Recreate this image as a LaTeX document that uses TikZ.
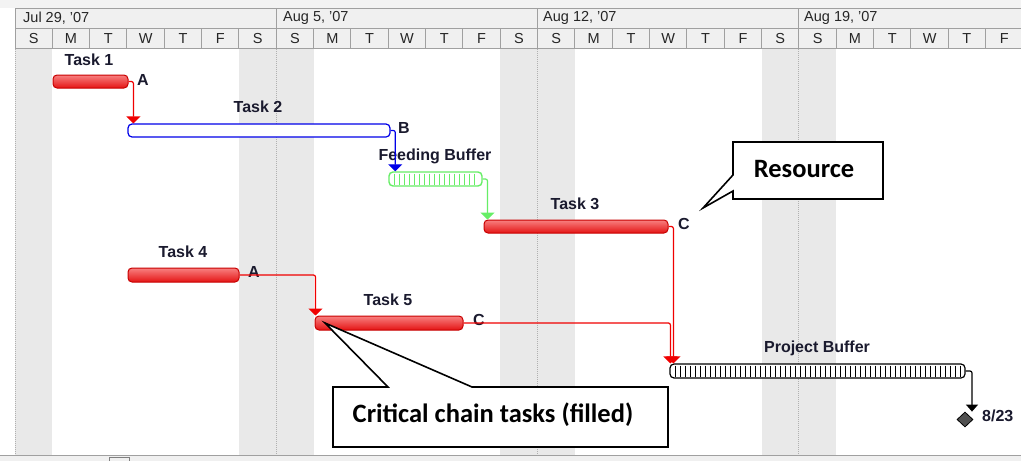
\documentclass[tikz,border=0pt]{standalone}
\usepackage{fontspec}
\setmainfont{Liberation Sans}
\newfontfamily\calibri{Carlito}
\usetikzlibrary{arrows.meta,shapes.geometric}
\definecolor{hdrbg}{HTML}{F0F0F0}
\definecolor{hdrline}{HTML}{A0A0A0}
\definecolor{wkend}{HTML}{E9E9E9}
\definecolor{wkline}{HTML}{B0B0B0}
\definecolor{barred}{HTML}{E41414}
\definecolor{bardark}{HTML}{C80000}
\definecolor{barlight}{HTML}{F88080}
\definecolor{lnred}{HTML}{F00000}
\definecolor{lnblue}{HTML}{0000E8}
\definecolor{lngreen}{HTML}{66EE66}
\definecolor{txt}{HTML}{1A1A2E}
\definecolor{msgray}{HTML}{505050}
\begin{document}
\begin{tikzpicture}[x=1pt,y=-1pt,
  hdrtext/.style={font=\fontsize{14.5}{16}\selectfont, text=black!85, inner sep=0pt},
  lbl/.style={font=\bfseries\fontsize{16}{18}\selectfont, text=txt, inner sep=0pt},
  redbar/.style={draw=bardark, line width=1pt, rounded corners=4pt, top color=barlight, bottom color=barred, minimum height=13, inner sep=0pt},
  bluebar/.style={draw=lnblue, line width=1.2pt, rounded corners=4pt, fill=white, minimum height=13, inner sep=0pt},
  greenbuf/.style={draw=lngreen, line width=1.4pt, rounded corners=4pt, fill=white, minimum height=14, inner sep=0pt},
  blackbuf/.style={draw=black, line width=1.2pt, rounded corners=4pt, fill=white, minimum height=14, inner sep=0pt},
  conn/.style={line width=1.2pt, rounded corners=2pt, -{Triangle[width=14pt,length=7pt]}},
  callout/.style={draw=black, line width=1.6pt, fill=white, line join=miter},
  calltext/.style={font=\calibri\bfseries\fontsize{26.5}{30}\selectfont, text=black, inner sep=0pt}
]
\useasboundingbox (0,0) rectangle (1021,461);
% top strip and bottom strip
\fill[hdrbg!80!white] (0,0) rectangle (1021,8);
\fill[white] (0,8) rectangle (1021,455);
% weekend shading
\foreach \i in {0,6,7,13,14,20,21} {
  \fill[wkend] ({15+37.33*\i},49) rectangle ({15+37.33*(\i+1)},455);
}
\foreach \xx in {15,276.3,537.6,798.9} {
  \draw[wkline, line width=1pt, dash pattern=on 1pt off 1pt] (\xx,49) -- (\xx,455);
}
\fill[hdrbg] (0,455) rectangle (1021,461);
\draw[hdrline, line width=0.8pt] (0,455.5) -- (1021,455.5);
\draw[gray, line width=0.8pt] (109,461) -- (109,457) -- (129,457) -- (129,461);
% header
\fill[hdrbg] (15,8) rectangle (1021,48);
\draw[hdrline, line width=1pt] (15,8) -- (1021,8) (15,28) -- (1021,28) (15,48) -- (1021,48);
\foreach \xx in {15,276.3,537.6,798.9} { \draw[hdrline, line width=1pt] (\xx,8) -- (\xx,48); }
\foreach \i in {1,...,26} { \draw[hdrline, line width=1pt] ({15+37.33*\i},28) -- ({15+37.33*\i},48); }
\node[hdrtext, anchor=west] (w1) at (23,18) {Jul 29, '07};
\node[hdrtext, anchor=west] (w2) at (283,18) {Aug 5, '07};
\node[hdrtext, anchor=west] (w3) at (543,18) {Aug 12, '07};
\node[hdrtext, anchor=west] (w4) at (804,18) {Aug 19, '07};
\foreach \d [count=\i from 0] in {S,M,T,W,T,F,S,S,M,T,W,T,F,S,S,M,T,W,T,F,S,S,M,T,W,T,F} {
  \node[hdrtext] (d\i) at ({15+37.33*\i+18.67},38.5) {\d};
}
% bars
\node[redbar, minimum width=75] (t1) at (90.5,81.5) {};
\node[bluebar, minimum width=262] (t2) at (259,130.5) {};
\node[greenbuf, minimum width=93] (fb) at (435.5,179) {};
\foreach \xx in {394.5,399.5,...,479} { \draw[lngreen, line width=1.2pt] (\xx,173.5) -- (\xx,184.5); }
\node[redbar, minimum width=184] (t3) at (576,226.5) {};
\node[redbar, minimum width=111, minimum height=14] (t4) at (183.5,275) {};
\node[redbar, minimum width=148, minimum height=14] (t5) at (389,323) {};
\node[blackbuf, minimum width=295] (pb) at (817.5,371) {};
\foreach \xx in {675.5,680.5,...,961} { \draw[black, line width=1.2pt] (\xx,365.5) -- (\xx,376.5); }
\node[draw=black, fill=msgray, line width=0.8pt, diamond, minimum width=16, minimum height=15, inner sep=0pt] (ms) at (965,419.5) {};
% labels
\node[lbl] (l1) at (89,60) {Task 1};
\node[lbl] (l2) at (258,107) {Task 2};
\node[lbl] (lfb) at (435,156) {Feeding Buffer};
\node[lbl] (l3) at (575,204) {Task 3};
\node[lbl] (l4) at (183,252) {Task 4};
\node[lbl] (l5) at (388,300) {Task 5};
\node[lbl] (lpb) at (817,348) {Project Buffer};
\node[lbl, anchor=west] (lms) at (982,416) {8/23};
\node[lbl] (a1) at (143,80) {A};
\node[lbl] (b1) at (404,128) {B};
\node[lbl] (c1) at (684,224) {C};
\node[lbl] (a2) at (254,272) {A};
\node[lbl] (c2) at (479,320) {C};
% connectors
\draw[conn, lnred] (t1.east) -| ([xshift=6pt]t2.north west);
\draw[conn, lnblue] (t2.east) -| ([xshift=7pt]fb.north west);
\draw[conn, lngreen] (fb.east) -| ([xshift=4pt]t3.north west);
\draw[conn, lnred] (t4.east) -| ([xshift=1pt]t5.north west);
\draw[conn, lnred] (t5.east) -| ([xshift=1pt]pb.north west);
\draw[conn, lnred] (t3.east) -| ([xshift=4pt]pb.north west);
\draw[conn, black, -{Triangle[width=12pt,length=7pt]}] (pb.east) -| ([xshift=7pt]ms.north);
% callouts
\draw[callout] (733,142) -- (883,142) -- (883,199) -- (733,199) -- (733,191) -- (703,208) -- (733,175) -- cycle;
\node[calltext] (res) at (804,169) {Resource};
\draw[callout] (333,387) -- (388,387) -- (325,323) -- (472,387) -- (668,387) -- (668,447) -- (333,447) -- cycle;
\node[calltext] (cct) at (493,415) {Critical chain tasks (filled)};
\end{tikzpicture}
\end{document}
